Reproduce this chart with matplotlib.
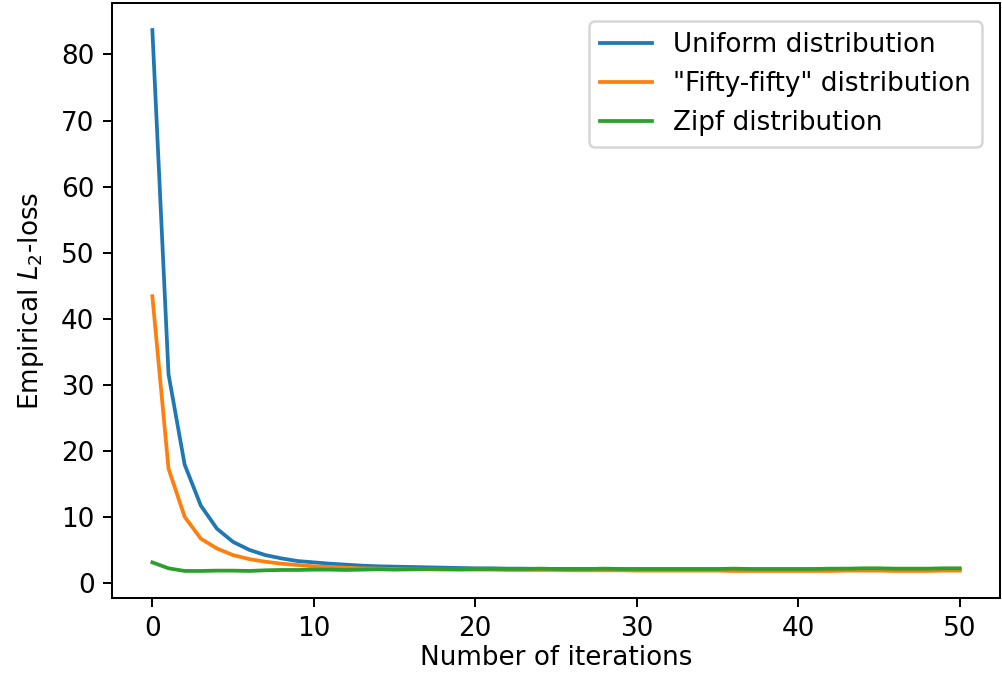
import numpy as np
import matplotlib.pyplot as plt

# iterations 0..50
iterations = np.arange(51)

uniform_loss = [83.7, 31.6, 17.9, 11.7, 8.2, 6.2, 5.0, 4.2, 3.7, 3.3,
                3.1, 2.9, 2.75, 2.6, 2.5, 2.45, 2.4, 2.35, 2.3, 2.25,
                2.2, 2.2, 2.15, 2.15, 2.1, 2.1, 2.1, 2.1, 2.1, 2.05,
                2.05, 2.05, 2.05, 2.05, 2.05, 2.0, 2.0, 2.0, 2.0, 2.0,
                2.0, 2.0, 2.0, 2.0, 2.0, 2.0, 2.0, 2.0, 2.0, 2.0,
                2.0]
fifty_loss = [43.4, 17.3, 10.0, 6.7, 5.2, 4.2, 3.6, 3.2, 2.9, 2.7,
              2.5, 2.4, 2.3, 2.2, 2.15, 2.1, 2.05, 2.05, 2.0, 2.0,
              2.0, 2.0, 1.95, 1.95, 1.95, 1.95, 1.9, 1.9, 1.9, 1.9,
              1.85, 1.85, 1.85, 1.85, 1.85, 1.85, 1.8, 1.8, 1.8, 1.8,
              1.8, 1.8, 1.8, 1.85, 1.85, 1.85, 1.8, 1.8, 1.8, 1.85,
              1.85]
zipf_loss = [3.1, 2.2, 1.8, 1.8, 1.85, 1.85, 1.8, 1.9, 1.95, 1.95,
             2.0, 2.0, 1.95, 2.0, 2.05, 2.0, 2.05, 2.1, 2.1, 2.05,
             2.1, 2.1, 2.1, 2.1, 2.15, 2.1, 2.1, 2.1, 2.15, 2.1,
             2.1, 2.1, 2.1, 2.1, 2.1, 2.1, 2.15, 2.1, 2.1, 2.1,
             2.1, 2.1, 2.15, 2.15, 2.2, 2.2, 2.15, 2.15, 2.15, 2.2,
             2.2]

plt.rcParams['font.size'] = 10.5

# high dpi so default line widths / ticks scale like the reference
dpi = 180
fig = plt.figure(figsize=(1002 / dpi, 673 / dpi), dpi=dpi)
ax = fig.add_axes([112 / 1002, 75 / 673, 888 / 1002, 595 / 673])

ax.plot(iterations, uniform_loss, label='Uniform distribution')
ax.plot(iterations, fifty_loss, label='"Fifty-fifty" distribution')
ax.plot(iterations, zipf_loss, label='Zipf distribution')

ax.set_xticks(range(0, 51, 10))
ax.set_yticks(range(0, 81, 10))
ax.set_xlabel('Number of iterations', labelpad=1.5)
ax.set_ylabel('Empirical $L_2$-loss', labelpad=6)
ax.legend(loc='upper right', borderaxespad=0.7)

fig.savefig('out.png', dpi=dpi)
